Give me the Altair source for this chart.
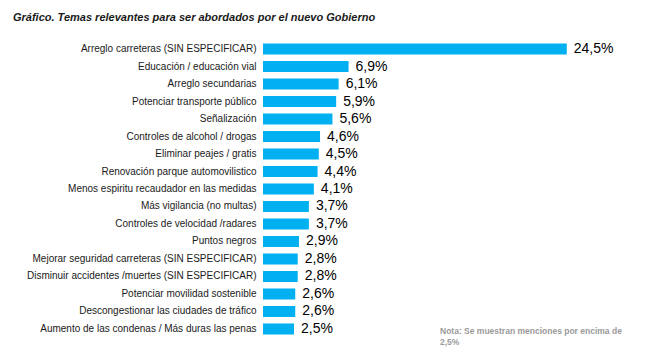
import altair as alt
import pandas as pd

categories = [
    "Arreglo carreteras (SIN ESPECIFICAR)",
    "Educación / educación vial",
    "Arreglo secundarias",
    "Potenciar transporte público",
    "Señalización",
    "Controles de alcohol / drogas",
    "Eliminar peajes / gratis",
    "Renovación parque automovilistico",
    "Menos espiritu recaudador en las medidas",
    "Más vigilancia (no multas)",
    "Controles de velocidad /radares",
    "Puntos negros",
    "Mejorar seguridad carreteras (SIN ESPECIFICAR)",
    "Disminuir accidentes /muertes (SIN ESPECIFICAR)",
    "Potenciar movilidad sostenible",
    "Descongestionar las ciudades de tráfico",
    "Aumento de las condenas / Más duras las penas",
]
values = [24.5, 6.9, 6.1, 5.9, 5.6, 4.6, 4.5, 4.4, 4.1, 3.7, 3.7, 2.9, 2.8, 2.8, 2.6, 2.6, 2.5]
labels = [f"{v:.1f}%".replace(".", ",") for v in values]
note_lines = ["Nota: Se muestran menciones por encima de", "2,5%"]

df = pd.DataFrame({"cat": categories, "val": values, "lab": labels})
note_df = pd.DataFrame({"note": [note_lines]})

FONT = "Liberation Sans, Arial, Helvetica"

y = alt.Y("cat:N", sort=categories,
          scale=alt.Scale(paddingInner=0.37, paddingOuter=0.2),
          axis=alt.Axis(title=None, ticks=False, domain=False, labelPadding=7,
                        labelFont=FONT, labelFontSize=10, labelColor="#1a1a1a",
                        labelLimit=400))
x = alt.X("val:Q", scale=alt.Scale(domain=[0, 30]), axis=None)

bars = alt.Chart(df).mark_bar(color="#00B0F0").encode(x=x, y=y)
text = alt.Chart(df).mark_text(align="left", baseline="middle", dx=7,
                               font=FONT, fontSize=14, color="#000000").encode(
    x=x, y=y, text="lab:N")
note = alt.Chart(note_df).mark_text(align="left", baseline="middle", font=FONT,
                                    fontSize=8.5, fontWeight="bold", color="#9a9a9a",
                                    lineHeight=11).encode(
    x=alt.value(177), y=alt.value(291), text="note")

chart = alt.layer(bars, text, note).properties(
    width=372, height=298,
    autosize=alt.AutoSizeParams(type="none"),
    padding={"left": 255, "top": 32, "right": 10, "bottom": 10},
    title=alt.TitleParams("Gráfico. Temas relevantes para ser abordados por el nuevo Gobierno",
                          anchor="start", frame="group", dx=-250, offset=17, font=FONT,
                          fontSize=11, fontWeight="bold", fontStyle="italic", color="#1a1a1a"),
).configure_view(stroke=None)

chart.save("out.html", embed_options={"renderer": "svg", "actions": False})
